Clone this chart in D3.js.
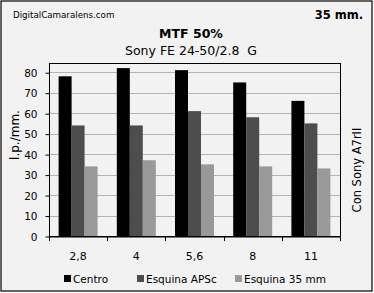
<!DOCTYPE html>
<html>
<head>
<meta charset="utf-8">
<script src="https://cdn.jsdelivr.net/npm/d3@7"></script>
<style>
  body { margin: 0; background: #fff; }
  text { font-family: "DejaVu Sans", Verdana, sans-serif; fill: #000; }
</style>
</head>
<body>
<div id="chart"></div>
<script>
// apertures and the three measured series (l.p./mm)
const apertures = ["2,8", "4", "5,6", "8", "11"];
const centro = [78, 82, 81, 75, 66];
const esquinaAPSc = [54, 54, 61, 58, 55];
const esquina35 = [34, 37, 35, 34, 33];
const seriesNames = ["Centro", "Esquina APSc", "Esquina 35 mm"];
const seriesColors = ["#000000", "#4d4d4d", "#999999"];
const yTicks = [0, 10, 20, 30, 40, 50, 60, 70, 80];

const W = 374, H = 293;
const plot = { left: 49, right: 340, top: 63, bottom: 236 };

const svg = d3.select('#chart').append('svg')
  .attr('width', W)
  .attr('height', H);

// background + outer frame
svg.append('rect')
  .attr('x', 1).attr('y', 1)
  .attr('width', W - 3).attr('height', H - 3)
  .attr('fill', '#f2f2f2')
  .attr('stroke', '#000')
  .attr('stroke-width', 1.2);

const x = d3.scaleBand()
  .domain(apertures)
  .range([plot.left, plot.right])
  .paddingInner(0)
  .paddingOuter(0);

const x1 = d3.scaleBand()
  .domain(seriesNames)
  .range([0, x.bandwidth()])
  .paddingOuter(0.74)
  .paddingInner(0);

const y = d3.scaleLinear()
  .domain([0, 84.5])
  .range([plot.bottom, plot.top]);

// gridlines
svg.append('g')
  .selectAll('line')
  .data(yTicks.filter(d => d > 0))
  .enter()
  .append('line')
  .attr('x1', plot.left).attr('x2', plot.right)
  .attr('y1', d => Math.round(y(d)) + 0.5)
  .attr('y2', d => Math.round(y(d)) + 0.5)
  .attr('stroke', '#b4b4b4')
  .attr('stroke-width', 1);

// bars
const rows = apertures.map((a, i) => ({
  aperture: a,
  values: [centro[i], esquinaAPSc[i], esquina35[i]]
}));

const groups = svg.append('g')
  .selectAll('g')
  .data(rows)
  .enter()
  .append('g')
  .attr('transform', d => 'translate(' + x(d.aperture) + ',0)');

groups.selectAll('rect')
  .data(d => d.values.map((v, j) => ({ name: seriesNames[j], value: v, color: seriesColors[j] })))
  .enter()
  .append('rect')
  .attr('x', d => x1(d.name))
  .attr('y', d => y(d.value))
  .attr('width', x1.bandwidth())
  .attr('height', d => plot.bottom - y(d.value))
  .attr('fill', d => d.color);

// plot frame
svg.append('rect')
  .attr('x', plot.left + 0.5).attr('y', plot.top + 0.5)
  .attr('width', plot.right - plot.left)
  .attr('height', plot.bottom - plot.top)
  .attr('fill', 'none')
  .attr('stroke', '#000')
  .attr('stroke-width', 1);

// y axis
const yAxis = d3.axisLeft(y).tickValues(yTicks).tickSize(4).tickPadding(8);
const gy = svg.append('g')
  .attr('transform', 'translate(' + (plot.left + 0.5) + ',0.5)')
  .call(yAxis);
gy.select('.domain').remove();
gy.selectAll('.tick line').attr('stroke', '#000');
gy.selectAll('.tick text').style('font-size', '10.5px').attr('dy', '0.35em');

// x axis
const xAxis = d3.axisBottom(x).tickSize(0).tickPadding(16);
const gx = svg.append('g')
  .attr('transform', 'translate(0,' + (plot.bottom + 0.5) + ')')
  .call(xAxis);
gx.select('.domain').attr('stroke', '#000');
gx.selectAll('.tick text').style('font-size', '11px');
// category separators
svg.append('g')
  .selectAll('line')
  .data(apertures.concat(['end']))
  .enter()
  .append('line')
  .attr('x1', (d, i) => Math.round(plot.left + i * x.bandwidth()) + 0.5)
  .attr('x2', (d, i) => Math.round(plot.left + i * x.bandwidth()) + 0.5)
  .attr('y1', plot.bottom)
  .attr('y2', plot.bottom + 5)
  .attr('stroke', '#000');

// titles
svg.append('text')
  .attr('x', 13).attr('y', 18)
  .style('font-size', '8.7px')
  .text('DigitalCamaralens.com');

svg.append('text')
  .attr('x', 363).attr('y', 19)
  .attr('text-anchor', 'end')
  .style('font-size', '11.5px')
  .style('font-weight', 'bold')
  .text('35 mm.');

svg.append('text')
  .attr('x', 191).attr('y', 38)
  .attr('text-anchor', 'middle')
  .style('font-size', '12.5px')
  .style('font-weight', 'bold')
  .text('MTF 50%');

svg.append('text')
  .attr('x', 191).attr('y', 55)
  .attr('text-anchor', 'middle')
  .style('font-size', '12.5px')
  .style('white-space', 'pre')
  .text('Sony FE 24-50/2.8  G');

// axis titles
svg.append('text')
  .attr('transform', 'translate(19,135) rotate(-90)')
  .attr('text-anchor', 'middle')
  .style('font-size', '12px')
  .text('l.p./mm.');

svg.append('text')
  .attr('transform', 'translate(361,170) rotate(-90)')
  .attr('text-anchor', 'middle')
  .style('font-size', '11.5px')
  .text('Con Sony A7rII');

// legend
const legendX = [64, 137, 235];
const legend = svg.append('g')
  .selectAll('g')
  .data(seriesNames)
  .enter()
  .append('g')
  .attr('transform', (d, i) => 'translate(' + legendX[i] + ',275)');

legend.append('rect')
  .attr('x', 0).attr('y', 0)
  .attr('width', 7).attr('height', 7)
  .attr('fill', (d, i) => seriesColors[i]);

legend.append('text')
  .attr('x', 9).attr('y', 7.5)
  .style('font-size', '10.5px')
  .text(d => d);
</script>
</body>
</html>
